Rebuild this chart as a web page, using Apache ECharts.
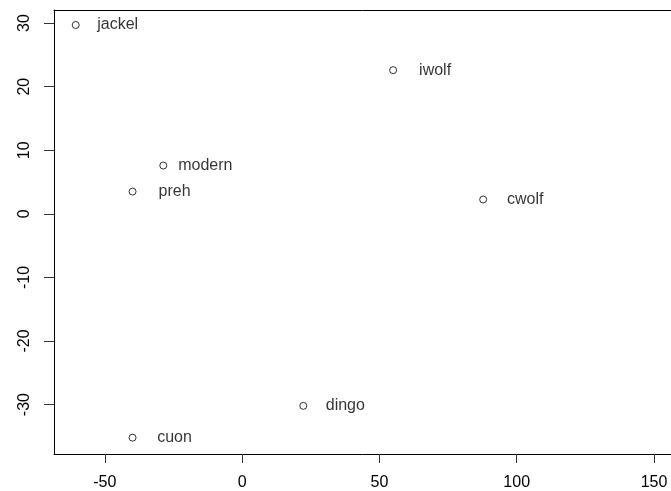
<!DOCTYPE html>
<html>
<head>
<meta charset="utf-8">
<script src="https://cdn.jsdelivr.net/npm/echarts@6/dist/echarts.min.js"></script>
<style>html,body{margin:0;padding:0;background:#fff;}#c{width:671px;height:491px;}</style>
</head>
<body>
<div id="c"></div>
<script>
var names = ['jackel', 'iwolf', 'modern', 'preh', 'cwolf', 'dingo', 'cuon'];
var xs = [-60.6, 55.0, -28.7, -39.9, 87.8, 22.3, -39.9];
var ys = [29.7, 22.6, 7.6, 3.5, 2.25, -30.2, -35.2];
var xTicks = [-50, 0, 50, 100, 150];
var yTicks = [-30, -20, -10, 0, 10, 20, 30];

var font = '"Liberation Sans", Arial, Helvetica, sans-serif';
var data = names.map(function (n, i) { return { name: n, value: [xs[i], ys[i]] }; });

var chart = echarts.init(document.getElementById('c'), null, { renderer: 'canvas' });
chart.setOption({
  animation: false,
  backgroundColor: '#fff',
  grid: { left: 54, top: 10, right: 0, bottom: 36 },
  xAxis: [{
    type: 'value', min: -68.5, max: 156.2, position: 'bottom',
    splitLine: { show: false },
    axisLine: { show: true, onZero: false, lineStyle: { color: '#000', width: 1 } },
    axisTick: { show: true, length: 9, customValues: xTicks, lineStyle: { color: '#333' } },
    axisLabel: { customValues: xTicks, margin: 21, color: '#000', fontSize: 16, fontFamily: font }
  }, {
    type: 'value', min: -68.5, max: 156.2, position: 'top',
    splitLine: { show: false },
    axisLine: { show: true, onZero: false, lineStyle: { color: '#000', width: 1 } },
    axisTick: { show: false }, axisLabel: { show: false }
  }],
  yAxis: {
    type: 'value', min: -37.77, max: 32.06,
    splitLine: { show: false },
    axisLine: { show: true, onZero: false, lineStyle: { color: '#000', width: 1 } },
    axisTick: { show: true, length: 10, customValues: yTicks, lineStyle: { color: '#333' } },
    axisLabel: { customValues: yTicks, rotate: 90, margin: 21, color: '#000', fontSize: 16, fontFamily: font }
  },
  series: [{
    type: 'scatter',
    xAxisIndex: 0,
    data: data,
    symbol: 'circle',
    symbolSize: 7,
    itemStyle: { color: '#fff', borderColor: '#000', borderWidth: 1 },
    label: {
      show: true, position: 'inside', offset: [42, 0],
      formatter: '{b}', color: '#000', fontSize: 16, fontFamily: font,
      align: 'center', verticalAlign: 'middle'
    },
    emphasis: { disabled: true }
  }]
});
</script>
</body>
</html>
